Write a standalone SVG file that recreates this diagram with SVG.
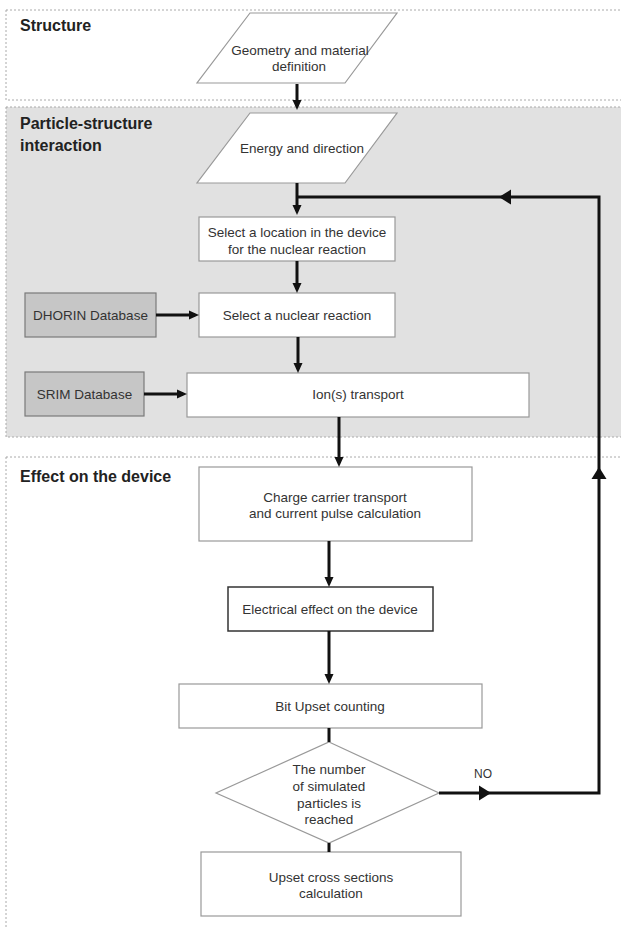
<svg xmlns="http://www.w3.org/2000/svg" width="621" height="928" viewBox="0 0 621 928">
<defs>
<style>
.sec{fill:none;stroke:#aaa;stroke-width:1;stroke-dasharray:2,2}
.hdr{font-family:"Liberation Sans",Arial,sans-serif;font-weight:bold;font-size:16px;fill:#222}
.t{font-family:"Liberation Sans",Arial,sans-serif;font-size:13.5px;fill:#333;text-anchor:middle}
.box{fill:#fff;stroke:#999;stroke-width:1.2}
.db{fill:#c6c6c6;stroke:#7a7a7a;stroke-width:1.2}
.cn{fill:none;stroke:#111;stroke-width:3;stroke-linejoin:miter}
.ah{fill:#111}
</style>
<marker id="arr" markerUnits="userSpaceOnUse" markerWidth="10" markerHeight="10" viewBox="0 0 10 10" refX="6" refY="5" orient="auto">
<path d="M0,0.5 L10,5 L0,9.5 z" fill="#111"/>
</marker>
<path id="big" d="M-12,-7.5 L0,0 L-12,7.5 z"/>
</defs>

<!-- sections -->
<g id="sec-structure">
<rect class="sec" x="6" y="10" width="625" height="90" fill="#fff"/>
<text class="hdr" x="20" y="31">Structure</text>
</g>
<g id="sec-interaction">
<rect class="sec" x="6" y="107" width="625" height="330" style="fill:#e1e1e1"/>
<text class="hdr" x="20" y="129">Particle-structure</text>
<text class="hdr" x="20" y="151">interaction</text>
</g>
<g id="sec-effect">
<rect class="sec" x="6" y="457" width="625" height="490"/>
<text class="hdr" x="20" y="482">Effect on the device</text>
</g>

<!-- nodes -->
<g id="geometry">
<polygon class="box" points="250,13 397,13 345,83 197,83"/>
<text class="t" x="300" y="55">Geometry and material</text>
<text class="t" x="299" y="71">definition</text>
</g>
<g id="energy">
<polygon class="box" points="250,113 397,113 345,183 197,183"/>
<text class="t" x="302" y="153">Energy and direction</text>
</g>
<g id="location">
<rect class="box" x="199" y="217" width="196" height="44"/>
<text class="t" x="297" y="237">Select a location in the device</text>
<text class="t" x="297" y="254">for the nuclear reaction</text>
</g>
<g id="dhorin">
<rect class="db" x="25" y="293" width="131" height="44"/>
<text class="t" x="90.5" y="320">DHORIN Database</text>
</g>
<g id="reaction">
<rect class="box" x="199" y="293" width="196" height="44"/>
<text class="t" x="297" y="320">Select a nuclear reaction</text>
</g>
<g id="srim">
<rect class="db" x="25" y="372" width="119" height="44"/>
<text class="t" x="84.5" y="399">SRIM Database</text>
</g>
<g id="ion">
<rect class="box" x="187" y="373" width="342" height="44"/>
<text class="t" x="358" y="399">Ion(s) transport</text>
</g>
<g id="charge">
<rect class="box" x="199" y="467" width="273" height="74"/>
<text class="t" x="335" y="502">Charge carrier transport</text>
<text class="t" x="335" y="518">and current pulse calculation</text>
</g>
<g id="electrical">
<rect class="box" x="228" y="587" width="205" height="44" style="stroke:#333;stroke-width:1.5"/>
<text class="t" x="330" y="614">Electrical effect on the device</text>
</g>
<g id="bitupset">
<rect class="box" x="179" y="684" width="303" height="44"/>
<text class="t" x="330" y="711">Bit Upset counting</text>
</g>
<g id="decision">
<polygon class="box" points="329,742 439,793 329,843 216,793"/>
<text class="t" x="329" y="774">The number</text>
<text class="t" x="329" y="791">of simulated</text>
<text class="t" x="329" y="808">particles is</text>
<text class="t" x="329" y="824">reached</text>
</g>
<g id="crosssection">
<rect class="box" x="201" y="852" width="260" height="64"/>
<text class="t" x="331" y="882">Upset cross sections</text>
<text class="t" x="331" y="898">calculation</text>
</g>

<!-- connectors -->
<g id="connectors">
<line class="cn" x1="297" y1="84" x2="297" y2="106" marker-end="url(#arr)"/>
<line class="cn" x1="297" y1="183" x2="297" y2="211" marker-end="url(#arr)"/>
<line class="cn" x1="297" y1="261" x2="297" y2="289" marker-end="url(#arr)"/>
<line class="cn" x1="156" y1="315" x2="195" y2="315" marker-end="url(#arr)"/>
<line class="cn" x1="298" y1="337" x2="298" y2="369" marker-end="url(#arr)"/>
<line class="cn" x1="144" y1="394" x2="183" y2="394" marker-end="url(#arr)"/>
<line class="cn" x1="339" y1="417" x2="339" y2="463" marker-end="url(#arr)"/>
<line class="cn" x1="329" y1="541" x2="329" y2="583" marker-end="url(#arr)"/>
<line class="cn" x1="329" y1="631" x2="329" y2="680" marker-end="url(#arr)"/>
<line class="cn" x1="329" y1="728" x2="329" y2="742"/>
<line class="cn" x1="329" y1="843" x2="329" y2="852"/>
<polyline class="cn" points="439,793 599,793 599,197 297,197"/>
<use href="#big" class="ah" transform="translate(491,793)"/>
<use href="#big" class="ah" transform="translate(599,467) rotate(-90)"/>
<use href="#big" class="ah" transform="translate(499,197) rotate(180)"/>
<text class="t" x="483" y="778" style="font-size:12px">NO</text>
</g>
</svg>
